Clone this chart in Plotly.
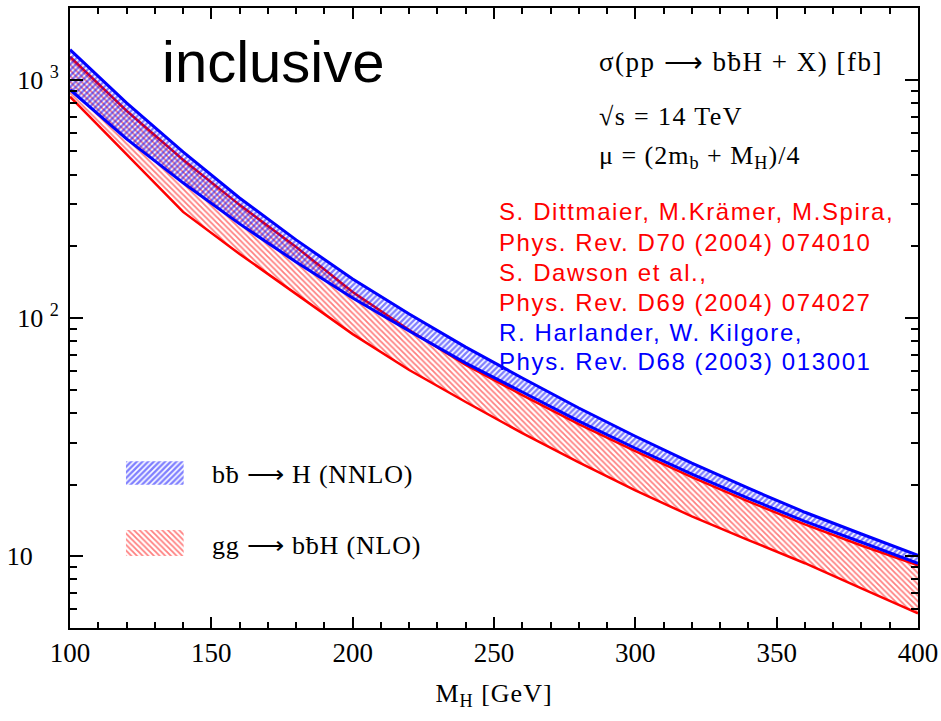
import plotly.graph_objects as go

# Higgs mass grid [GeV]
mh = [100, 120, 140, 160, 180, 200, 220, 240, 260, 280, 300, 320, 340, 360, 380, 400]

# bb -> H (NNLO) uncertainty band [fb]
bbh_upper = [1337, 800, 498, 319, 212.7, 145.8, 103.9, 75.5, 56.0, 41.9, 31.9, 24.6, 19.3, 15.3, 12.4, 10.1]
bbh_lower = [907.7, 564.9, 369.3, 248.3, 171.9, 121.4, 88.2, 64.7, 48.9, 36.9, 28.4, 22.1, 17.5, 14.0, 11.45, 9.35]

# gg -> bbH (NLO) uncertainty band [fb]
ggbbh_upper = [1249, 740.8, 461.2, 298.4, 198.7, 128.6, 89.0, 63.5, 47.5, 35.9, 27.6, 21.5, 17.0, 13.6, 11.1, 9.17]
ggbbh_lower = [848.3, 484.0, 278.8, 185.7, 126.1, 85.6, 60.5, 44.4, 32.9, 24.8, 18.9, 14.7, 11.7, 9.35, 7.34, 5.76]

x_ticks = [100, 150, 200, 250, 300, 350, 400]
y_ticks = [10, 100, 1000]
y_ticktext = ["10\u2007\u2007", "10 <sup>2</sup>", "10 <sup>3</sup>"]
y_minor = [6, 7, 8, 9, 20, 30, 40, 50, 60, 70, 80, 90, 200, 300, 400, 500, 600, 700, 800, 900]

references_red = [
    "S. Dittmaier, M.Krämer, M.Spira,",
    "Phys. Rev. D70 (2004) 074010",
    "S. Dawson et al.,",
    "Phys. Rev. D69 (2004) 074027",
]
references_blue = [
    "R. Harlander, W. Kilgore,",
    "Phys. Rev. D68 (2003) 013001",
]

RED = "#ff0000"
BLUE = "#0000ff"
SERIF = "Liberation Serif"
SANS = "Liberation Sans"
ARROW = "⟶"

legend_labels = [f"bƀ {ARROW} H (NNLO)", f"gg {ARROW} bƀH (NLO)"]

red_pattern = dict(shape="\\", fgcolor=RED, bgcolor="rgba(255,255,255,0)", size=4, solidity=0.45)
blue_pattern = dict(shape="/", fgcolor=BLUE, bgcolor="rgba(255,255,255,0)", size=4, solidity=0.6)

fig = go.Figure()

# gg -> bbH band
fig.add_trace(go.Scatter(x=mh, y=ggbbh_lower, mode="lines", line=dict(color=RED, width=2.5),
                         showlegend=False, hoverinfo="skip"))
fig.add_trace(go.Scatter(x=mh, y=ggbbh_upper, mode="lines", line=dict(color=RED, width=2.5),
                         fill="tonexty", fillcolor="rgba(0,0,0,0)", fillpattern=red_pattern,
                         showlegend=False, hoverinfo="skip"))

# bb -> H band
fig.add_trace(go.Scatter(x=mh, y=bbh_lower, mode="lines", line=dict(color=BLUE, width=3),
                         showlegend=False, hoverinfo="skip"))
fig.add_trace(go.Scatter(x=mh, y=bbh_upper, mode="lines", line=dict(color=BLUE, width=3),
                         fill="tonexty", fillcolor="rgba(0,0,0,0)", fillpattern=blue_pattern,
                         showlegend=False, hoverinfo="skip"))

# legend keys, drawn on an auxiliary unit axis over the plot area
key_x = [0.066, 0.134, 0.134, 0.066, 0.066]
key_blue_y = [0.231, 0.231, 0.269, 0.269, 0.231]
key_red_y = [0.116, 0.116, 0.158, 0.158, 0.116]
fig.add_trace(go.Scatter(x=key_x, y=key_blue_y, xaxis="x2", yaxis="y2", mode="lines",
                         line=dict(width=0), fill="toself", fillcolor="rgba(0,0,0,0)",
                         fillpattern=blue_pattern, showlegend=False, hoverinfo="skip"))
fig.add_trace(go.Scatter(x=key_x, y=key_red_y, xaxis="x2", yaxis="y2", mode="lines",
                         line=dict(width=0), fill="toself", fillcolor="rgba(0,0,0,0)",
                         fillpattern=red_pattern, showlegend=False, hoverinfo="skip"))

annotations = []


def px_x(px):
    return (px - 70) / 848


def px_y(py):
    return (628 - py) / 620


def note(text, x, y, size, family, color="black", spacing=0.0):
    if spacing:
        text = f'<span style="letter-spacing:{spacing}px">{text}</span>'
    annotations.append(dict(text=text, x=px_x(x), y=px_y(y), xref="paper", yref="paper",
                            xanchor="left", yanchor="middle", showarrow=False,
                            font=dict(size=size, family=family, color=color)))


note("inclusive", 160, 62, 58, SANS)
note(f"σ(pp {ARROW} bƀH + X) [fb]", 597, 62, 27, SERIF, spacing=1.5)
note("√s = 14 TeV", 597, 116, 26, SERIF, spacing=1.4)
note("μ = (2m<sub>b</sub> + M<sub>H</sub>)/4", 597, 157, 26, SERIF, spacing=1.0)

ref_y = [212, 242, 272, 302, 332, 361]
for i, t in enumerate(references_red):
    note(t, 497, ref_y[i], 24, SANS, RED, spacing=1.6)
for i, t in enumerate(references_blue):
    note(t, 497, ref_y[4 + i], 24, SANS, BLUE, spacing=1.6)

note(legend_labels[0], 210, 475, 26, SERIF, spacing=0.8)
note(legend_labels[1], 210, 545, 26, SERIF, spacing=0.8)

axis_common = dict(showline=True, linecolor="black", linewidth=2, mirror="allticks", automargin=False,
                   ticks="inside", tickcolor="black", tickwidth=2, showgrid=False, zeroline=False)

fig.update_layout(
    width=941, height=721,
    margin=dict(l=70, r=23, t=8, b=93),
    paper_bgcolor="white", plot_bgcolor="white",
    showlegend=False,
    annotations=annotations,
    xaxis=dict(range=[100, 400], tickvals=x_ticks, ticklen=11,
               tickfont=dict(family=SERIF, size=27, color="black"),
               minor=dict(dtick=10, tick0=100, ticks="inside", ticklen=6, tickwidth=2, tickcolor="black"),
               title=dict(text='<span style="letter-spacing:1px">M<sub>H</sub> [GeV]</span>',
                          font=dict(family=SERIF, size=26, color="black"), standoff=16),
               **axis_common),
    yaxis=dict(type="log", range=[0.69897, 3.30103], tickvals=y_ticks, ticktext=y_ticktext, ticklen=13,
               tickfont=dict(family=SERIF, size=26, color="black"), ticklabelstandoff=4,
               minor=dict(tickvals=y_minor, ticks="inside", ticklen=7, tickwidth=2, tickcolor="black"),
               **axis_common),
    xaxis2=dict(domain=[0, 1], range=[0, 1], overlaying="x", anchor="y2", visible=False, fixedrange=True),
    yaxis2=dict(domain=[0, 1], range=[0, 1], overlaying="y", anchor="x2", visible=False, fixedrange=True),
)

fig.write_html("out.html")
